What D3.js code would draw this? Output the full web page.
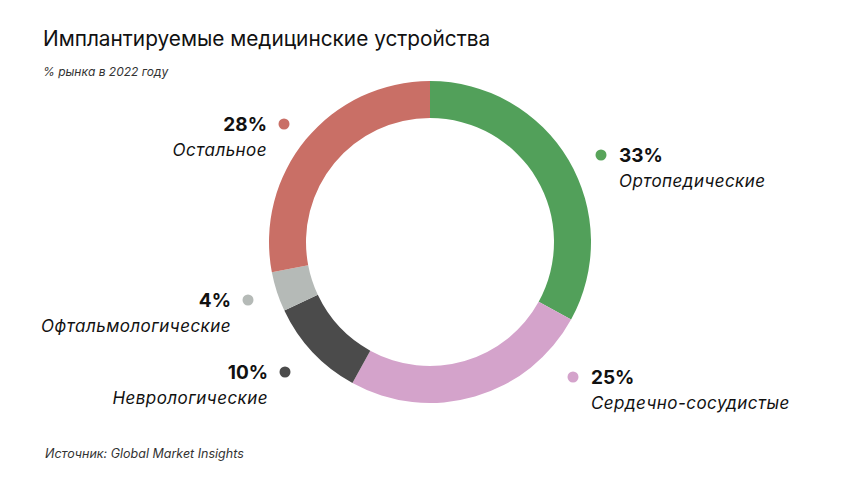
<!DOCTYPE html>
<html><head><meta charset="utf-8">
<script src="https://cdn.jsdelivr.net/npm/d3@7"></script>
<style>body{margin:0;background:#fff}svg{display:block}text{font-family:"Inter","Noto Sans",sans-serif}</style>
</head><body>
<svg id="c" width="860" height="484"></svg>
<script>
const categories = ["Ортопедические","Сердечно-сосудистые","Неврологические","Офтальмологические","Остальное"];
const values = [33, 25, 10, 4, 28];
const colors = ["url(#gGreen)","#d4a3cb","#4b4b4b","#b5bab7","#c96f66"];
const dotColors = ["#58a45a","#d4a3cb","#4b4b4b","#b5bab7","#c96f66"];
// label layout: dot position, text anchor side
const labelLayout = [
  {dx:601, dy:155, side:"right"},
  {dx:573, dy:377, side:"right"},
  {dx:285, dy:372, side:"left"},
  {dx:248, dy:300, side:"left"},
  {dx:284, dy:124, side:"left"}
];
const svg = d3.select("#c");
const defs = svg.append("defs");
const gr = defs.append("linearGradient").attr("id","gGreen").attr("gradientUnits","userSpaceOnUse")
  .attr("x1",430).attr("y1",80).attr("x2",591).attr("y2",250);
gr.append("stop").attr("offset","0").attr("stop-color","#52a05a");
gr.append("stop").attr("offset","1").attr("stop-color","#69ad59");

svg.append("text").attr("x",43).attr("y",46).attr("font-size",20.8).attr("fill","#111").text("Имплантируемые медицинские устройства");
svg.append("text").attr("x",43).attr("y",76).attr("font-size",12).attr("font-style","italic").attr("fill","#333").text("% рынка в 2022 году");
svg.append("text").attr("x",45).attr("y",458).attr("font-size",12.5).attr("font-style","italic").attr("fill","#333").text("Источник: Global Market Insights");

const cx=430, cy=242, R=161, r=124;
const pie = d3.pie().sort(null).value(d=>d);
const arc = d3.arc().innerRadius(r).outerRadius(R);
const g = svg.append("g").attr("transform",`translate(${cx},${cy})`);
g.selectAll("path").data(pie(values)).join("path").attr("d",arc).attr("fill",(d,i)=>colors[i]);

const lg = svg.append("g");
labelLayout.forEach((p,i)=>{
  lg.append("circle").attr("cx",p.dx).attr("cy",p.dy).attr("r",5.5).attr("fill",dotColors[i]);
  const right = p.side==="right";
  const x = right ? p.dx+18 : p.dx-17;
  const anchor = right ? "start" : "end";
  lg.append("text").attr("x",x).attr("y",p.dy+7).attr("text-anchor",anchor)
    .attr("font-size",19).attr("font-weight",700).attr("fill","#111").text(values[i]+"%");
  lg.append("text").attr("x",x).attr("y",p.dy+32).attr("text-anchor",anchor)
    .attr("font-size",17).attr("letter-spacing",0.45).attr("font-style","italic").attr("fill","#111").text(categories[i]);
});
</script>
</body></html>
